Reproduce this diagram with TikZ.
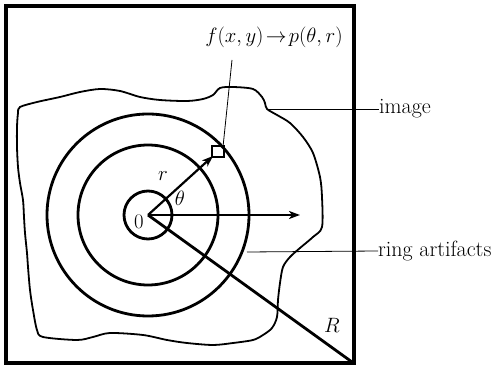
\documentclass[tikz,border=0pt]{standalone}
\usetikzlibrary{arrows.meta}
\begin{document}
\begin{tikzpicture}[x=1pt,y=-1pt,
  lbl/.style={inner sep=0pt,font=\fontsize{20}{24}\selectfont},
  side/.style={inner sep=0pt,font=\fontsize{22}{26}\selectfont},
  ring/.style={line width=2.8pt},
  leader/.style={line width=0.8pt},
  arr/.style={line width=2.2pt,-{Stealth[length=11pt,width=8pt,inset=3pt]}}]
\useasboundingbox (0,0) rectangle (496,371);
% frame
\draw[line width=3.2pt] (6,6) rectangle (354,363);
% image outline
\draw[line width=1.8pt] plot[smooth cycle,tension=0.5] coordinates {
(20,107) (37,102) (60,97) (80,92) (100,89) (120,91) (140,97) (160,100) (187,101) (203,99) (213,95) (220,88) (233,87) (253,89) (262,97) (265,103) (267,109) (277,115) (290,123) (303,137) (313,153) (320,177) (322,197) (322,227) (313,237) (300,248) (290,257) (283,267) (280,283) (278,300) (277,317) (272,328) (263,335) (253,340) (233,343) (213,345) (187,343) (167,340) (143,335) (110,333) (93,337) (77,340) (43,337) (37,330) (33,310) (30,290) (28,267) (27,253) (25,233) (24,217) (23,200) (20,183) (18,167) (17,147) (17,127) (18,113)};
% center
\coordinate (O) at (148,215);
\draw[ring] (O) circle[radius=24pt];
\draw[ring] (O) circle[radius=70pt];
\draw[ring] (O) circle[radius=101pt];
% pixel square
\draw[line width=2.4pt] (212,146) rectangle (224,157);
\coordinate (sq) at (213,156);
\coordinate (sqtop) at (223,147);
% arrows
\draw[arr] (O) -- (sq);
\coordinate (hx) at (300,215);
\draw[arr] (O) -- (hx);
\coordinate (Rend) at (352,362);
\draw[line width=2.8pt] (O) -- (Rend);
% labels
\node[lbl] (l0) at (139,222) {$0$};
\node[lbl] (lth) at (180,198) {$\theta$};
\node[lbl] (lr) at (163,176) {$r$};
\node[lbl] (lR) at (332,325) {$R$};
\node[lbl] (form) at (274,37) {$f(x,y)\!\rightarrow\! p(\theta,r)$};
\coordinate (fl) at (232,60);
\draw[leader] (fl) -- (sqtop);
% side labels
\node[side,anchor=west] (img) at (379,109) {image};
\coordinate (imgA) at (267,109);
\draw[leader] (imgA) -- (img.west);
\node[side,anchor=west] (ring) at (378,251) {ring artifacts};
\coordinate (ringA) at (247,252);
\draw[leader] (ringA) -- (ring.west);
\end{tikzpicture}
\end{document}
